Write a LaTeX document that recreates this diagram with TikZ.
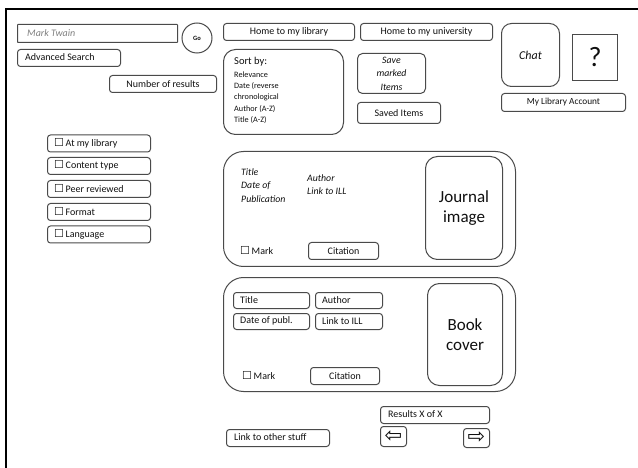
\documentclass[tikz,border=0pt]{standalone}
\usepackage{fontspec}
\setmainfont{Carlito}
\newfontfamily\symf{DejaVu Sans}
\definecolor{linec}{HTML}{4A4A4A}
\definecolor{txtc}{HTML}{101010}
\newcommand\chk{{\symf\fontsize{11}{11}\selectfont ☐}}
\begin{document}
\begin{tikzpicture}[x=1pt,y=-1pt,
  box/.style={draw=linec, line width=1pt, rounded corners=3pt, inner sep=0pt, anchor=north west, text=txtc, font=\fontsize{10}{11}\selectfont},
  txt/.style={inner sep=0pt, text=txtc, font=\fontsize{10}{11}\selectfont},
  itxt/.style={inner sep=0pt, text=txtc, font=\fontsize{9.8}{13.5}\itshape\selectfont, align=left},
  card/.style={draw=linec, line width=1pt, rounded corners=20pt, inner sep=0pt, anchor=north west},
  imgbox/.style={draw=linec, line width=1pt, rounded corners=12pt, inner sep=0pt, anchor=north west, text=txtc, font=\fontsize{17}{20}\selectfont, align=center}
]
\useasboundingbox (0,0) rectangle (638,468);
\fill[white] (0,0) rectangle (638,468);
% outer frame
\draw[line width=1.6pt, black] (638,9) -- (6,9) -- (6,468);

% search area
\node[box, rounded corners=0.5pt, minimum width=160pt, minimum height=18pt] (search) at (17,24) {};
\node[txt, anchor=west, text=gray, font=\fontsize{10}{12}\itshape\selectfont] (searcht) at (27,33) {Mark Twain};
\node[draw=linec, line width=1pt, circle, minimum size=30pt, inner sep=0pt, text=txtc, font=\fontsize{6.5}{8}\selectfont\bfseries] (go) at (197,38) {Go};
\node[box, minimum width=103pt, minimum height=17pt] (adv) at (17,49) {};
\node[txt, anchor=west] (advt) at (25,57.5) {Advanced Search};
\node[box, minimum width=107pt, minimum height=17pt] (numres) at (109,75) {Number of results};

% top nav
\node[box, minimum width=131pt, minimum height=17pt] (homelib) at (223,23) {Home to my library};
\node[box, minimum width=132pt, minimum height=17pt] (homeuni) at (360,23) {Home to my university};

% sort by
\node[box, rounded corners=12pt, minimum width=120pt, minimum height=85pt] (sort) at (223,49) {};
\node[txt, anchor=north west, align=left, font=\fontsize{10.5}{12}\selectfont] (sortt) at (234,57) {Sort by:};
\node[txt, anchor=north west, align=left, font=\fontsize{8.2}{11.3}\selectfont] (sortl) at (234,71.5) {Relevance\\Date (reverse\\chronological\\Author (A-Z)\\Title (A-Z)};

% save
\node[box, rounded corners=5pt, minimum width=68pt, minimum height=40pt, align=center, font=\fontsize{9.8}{13.5}\itshape\selectfont] (save) at (357,53) {Save\\marked\\Items};
\node[box, minimum width=83pt, minimum height=21pt] (saved) at (357,102) {Saved Items};

% chat, help, account
\node[box, rounded corners=10pt, minimum width=58pt, minimum height=63pt, font=\fontsize{12}{13}\itshape\selectfont] (chat) at (501,23) {Chat};
\node[box, rounded corners=0pt, minimum width=45pt, minimum height=46pt, font=\fontsize{28}{30}\selectfont] (help) at (572,34) {?};
\node[box, minimum width=124pt, minimum height=18pt, font=\fontsize{9.3}{11}\selectfont] (acct) at (501,93) {My Library Account};

% filters
\foreach \n/\yy/\t in {f1/134.5/At my library, f2/157/Content type, f3/180/Peer reviewed, f4/203/Format, f5/225.5/Language}{
  \node[box, minimum width=103pt, minimum height=17pt] (\n) at (47,\yy) {};
  \node[txt, anchor=west] (\n t) at (54,\yy+8.5) {\chk\,\t};
}

% journal card
\node[card, minimum width=292pt, minimum height=115pt] (jcard) at (223,151) {};
\node[imgbox, minimum width=77pt, minimum height=103pt] (jimg) at (425,156) {Journal\\image};
\node[itxt, anchor=north west] (jtitle) at (241,168) {Title\\Date of\\Publication};
\node[itxt, anchor=north west] (jauth) at (307,174) {Author\\Link to ILL};
\node[txt, anchor=west] (jmark) at (240,250.5) {\chk\,Mark};
\node[box, minimum width=70pt, minimum height=17pt] (jcit) at (308,242) {Citation};

% book card
\node[card, minimum width=292pt, minimum height=114pt] (bcard) at (223,277) {};
\node[imgbox, minimum width=75pt, minimum height=102pt] (bimg) at (427,283) {Book\\cover};
\node[box, minimum width=76pt, minimum height=16pt] (btitle) at (233,292) {};
\node[txt, anchor=west] (btitlet) at (240,300) {Title};
\node[box, minimum width=67pt, minimum height=16pt] (bauth) at (315,292) {};
\node[txt, anchor=west] (bautht) at (322,300) {Author};
\node[box, minimum width=76pt, minimum height=16pt] (bdate) at (233,313) {};
\node[txt, anchor=west] (bdatet) at (240,321) {Date of publ.};
\node[box, minimum width=67pt, minimum height=16pt] (bill) at (315,313) {};
\node[txt, anchor=west] (billt) at (322,321) {Link to ILL};
\node[txt, anchor=west] (bmark) at (242,376) {\chk\,Mark};
\node[box, minimum width=69pt, minimum height=17pt] (bcit) at (310,367) {Citation};

% bottom
\node[box, minimum width=109pt, minimum height=17pt] (res) at (380,406) {};
\node[txt, anchor=west] (rest) at (388,414.5) {Results X of X};
\node[box, minimum width=26pt, minimum height=20pt, font=\symf\fontsize{21}{22}\selectfont] (prev) at (380,426) {⇦};
\node[box, minimum width=26pt, minimum height=19pt, font=\symf\fontsize{21}{22}\selectfont] (next) at (463,428) {⇨};
\node[box, minimum width=103pt, minimum height=17pt] (other) at (226,429) {};
\node[txt, anchor=west] (othert) at (234,437.5) {Link to other stuff};
\end{tikzpicture}
\end{document}
